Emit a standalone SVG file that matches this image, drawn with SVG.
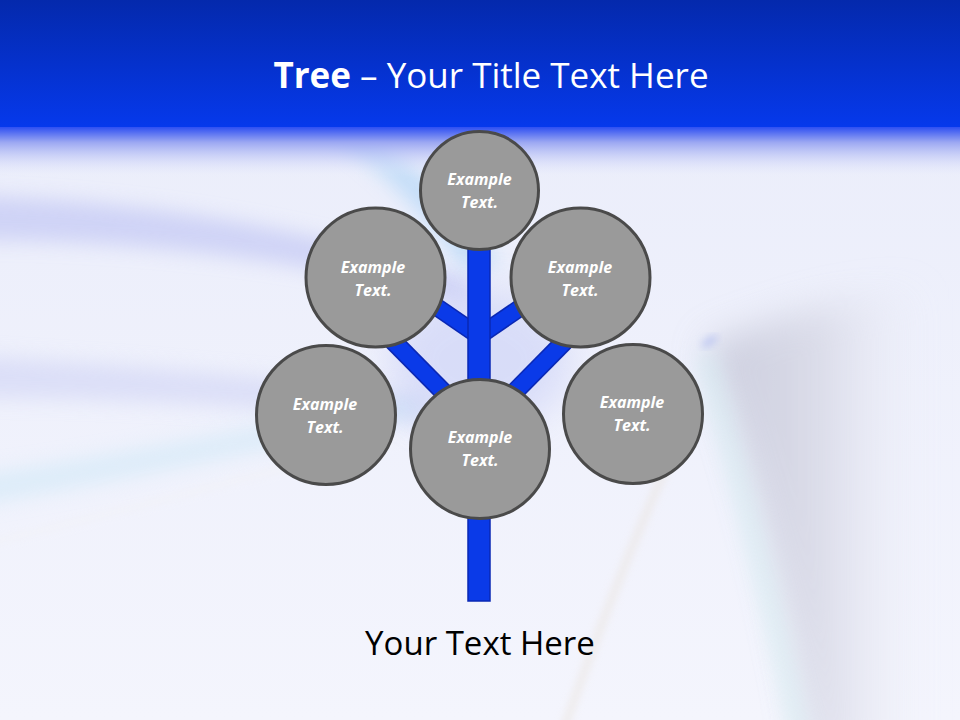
<svg xmlns="http://www.w3.org/2000/svg" width="960" height="720" viewBox="0 0 960 720">
<defs>
<linearGradient id="hdr" x1="0" y1="0" x2="0" y2="1">
<stop offset="0" stop-color="#0429ac"/>
<stop offset="1" stop-color="#0639ec"/>
</linearGradient>
<linearGradient id="fade" x1="0" y1="0" x2="0" y2="1">
<stop offset="0" stop-color="#2e4ff2"/>
<stop offset="0.3" stop-color="#9aa6f2"/>
<stop offset="1" stop-color="#e6e9fb" stop-opacity="0"/>
</linearGradient>
<linearGradient id="bg" x1="0" y1="0" x2="0" y2="1">
<stop offset="0" stop-color="#e9ecfa"/>
<stop offset="1" stop-color="#f4f5fd"/>
</linearGradient>
<linearGradient id="grey" x1="0" y1="0" x2="1" y2="0">
<stop offset="0" stop-color="#bfc1d3"/>
<stop offset="0.5" stop-color="#d3d4e2"/>
<stop offset="1" stop-color="#eceef8" stop-opacity="0"/>
</linearGradient>
<filter id="blur10" x="-50%" y="-50%" width="200%" height="200%"><feGaussianBlur stdDeviation="10"/></filter>
<filter id="blur18" x="-50%" y="-50%" width="200%" height="200%"><feGaussianBlur stdDeviation="18"/></filter>
<filter id="blur4" x="-50%" y="-50%" width="200%" height="200%"><feGaussianBlur stdDeviation="4"/></filter>
<style>
.node circle{fill:#9a9a9a;stroke:#4a4a4a;stroke-width:3}
.node text{font-family:"Open Sans","Liberation Sans",sans-serif;font-weight:bold;font-style:italic;font-size:16px;fill:#ffffff;text-anchor:middle}
.edge{stroke:#0a28b4}
.core{stroke:#0a3ae8}
</style>
</defs>

<!-- background -->
<rect x="0" y="0" width="960" height="720" fill="url(#bg)"/>
<g id="background-streaks">
<path d="M-40,195 C150,200 320,230 470,280 L470,305 C320,262 150,240 -40,240 Z" fill="#c3c8f4" opacity="0.7" filter="url(#blur10)"/>
<path d="M360,130 C415,160 460,210 500,265 L465,270 C425,215 385,170 330,135 Z" fill="#a8d2f6" opacity="0.6" filter="url(#blur10)"/>
<path d="M-40,355 C140,365 300,380 430,395 L430,425 C300,410 140,398 -40,398 Z" fill="#ccd0f4" opacity="0.55" filter="url(#blur10)"/>
<path d="M-40,478 C150,450 300,420 420,395 L420,415 C300,442 150,475 -40,508 Z" fill="#c8e6f6" opacity="0.5" filter="url(#blur10)"/>
<path d="M-20,545 C140,508 260,472 400,440" stroke="#f2f2f6" stroke-width="5" fill="none" opacity="0.7" filter="url(#blur4)"/>
<path d="M705,345 C770,318 850,295 930,285 L930,760 L810,760 C785,600 755,480 705,345 Z" fill="url(#grey)" opacity="0.75" filter="url(#blur18)"/>
<path d="M705,355 C725,430 760,550 800,740" stroke="#cdeef0" stroke-width="16" fill="none" opacity="0.5" filter="url(#blur10)"/>
<path d="M560,740 C595,640 625,560 665,470" stroke="#e8e0d6" stroke-width="6" fill="none" opacity="0.6" filter="url(#blur4)"/>
<path d="M703,346 L716,337" stroke="#a4b2f0" stroke-width="4" fill="none" filter="url(#blur4)"/>
<ellipse cx="480" cy="360" rx="90" ry="70" fill="#c7cdf6" opacity="0.55" filter="url(#blur18)"/>
</g>

<!-- header -->
<rect x="0" y="0" width="960" height="127" fill="url(#hdr)"/>
<rect x="0" y="127" width="960" height="50" fill="url(#fade)"/>
<text x="491" y="88" font-family="'Open Sans','Liberation Sans',sans-serif" font-size="35" fill="#ffffff" text-anchor="middle"><tspan font-weight="bold">Tree</tspan> – Your Title Text Here</text>

<!-- connectors -->
<g id="connectors">
<line class="edge" x1="479" y1="336" x2="428" y2="301" stroke-width="18"/>
<line class="core" x1="479" y1="336" x2="428" y2="301" stroke-width="15"/>
<line class="edge" x1="479" y1="336" x2="530" y2="301" stroke-width="18"/>
<line class="core" x1="479" y1="336" x2="530" y2="301" stroke-width="15"/>
<line class="edge" x1="479" y1="428" x2="392" y2="340" stroke-width="19"/>
<line class="core" x1="479" y1="428" x2="392" y2="340" stroke-width="16"/>
<line class="edge" x1="479" y1="428" x2="566" y2="340" stroke-width="19"/>
<line class="core" x1="479" y1="428" x2="566" y2="340" stroke-width="16"/>
<rect x="468" y="240" width="22" height="361" fill="#0a3ae8" stroke="#0a28b4" stroke-width="1.5"/>
</g>

<!-- nodes -->
<g id="node-top" class="node"><circle cx="479.5" cy="190.5" r="59"/><text x="479.5" y="185">Example</text><text x="479.5" y="208">Text.</text></g>
<g id="node-upper-left" class="node"><circle cx="375.5" cy="277.5" r="69.5"/><text x="373" y="273">Example</text><text x="373" y="296">Text.</text></g>
<g id="node-upper-right" class="node"><circle cx="580.5" cy="277.5" r="69.5"/><text x="580" y="273">Example</text><text x="580" y="296">Text.</text></g>
<g id="node-lower-left" class="node"><circle cx="326" cy="415" r="69.5"/><text x="325" y="410">Example</text><text x="325" y="433">Text.</text></g>
<g id="node-lower-right" class="node"><circle cx="633" cy="414" r="69.5"/><text x="632" y="408">Example</text><text x="632" y="431">Text.</text></g>
<g id="node-center" class="node"><circle cx="480" cy="449" r="69.5"/><text x="480" y="443">Example</text><text x="480" y="466">Text.</text></g>

<text x="480" y="655" font-family="'Open Sans','Liberation Sans',sans-serif" font-size="33" fill="#000000" text-anchor="middle">Your Text Here</text>
</svg>
